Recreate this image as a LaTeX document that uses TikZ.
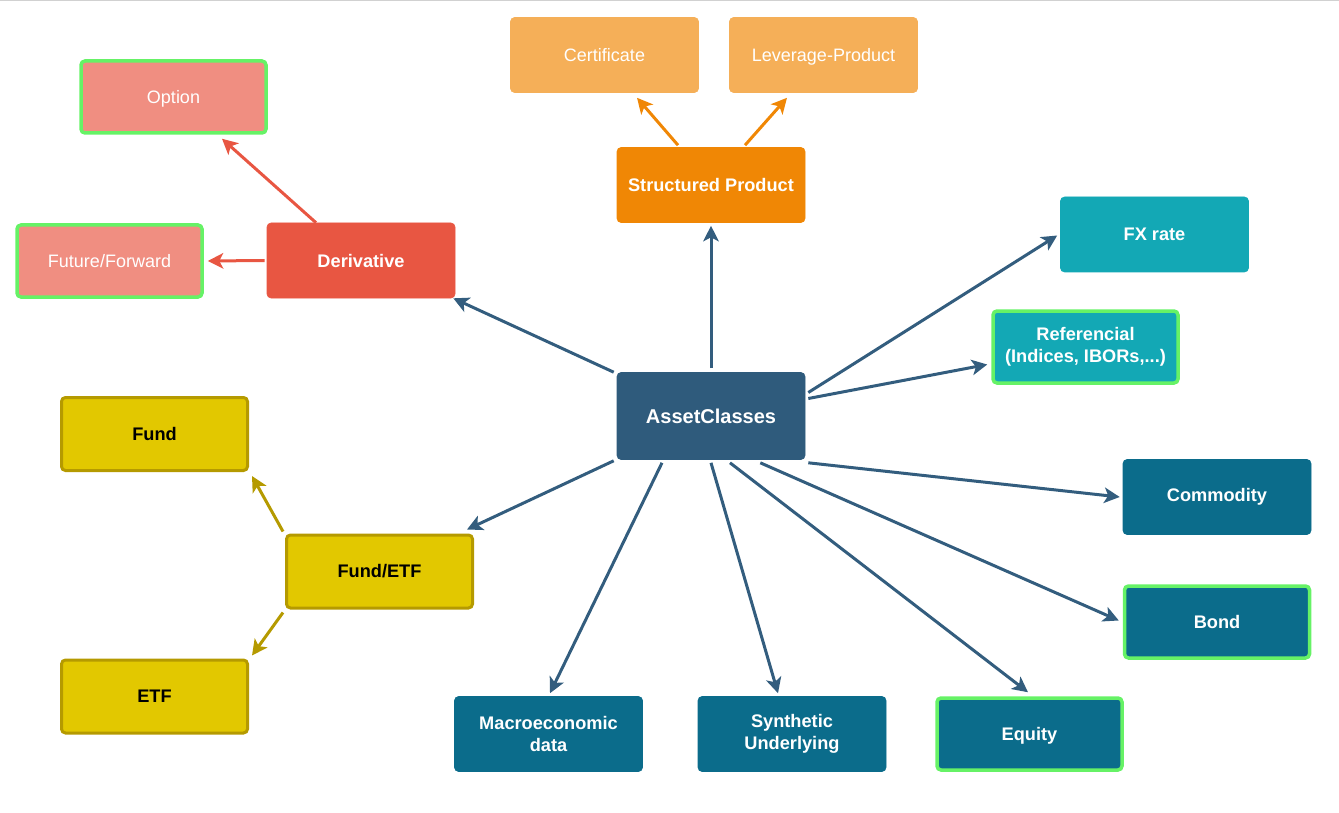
\documentclass[tikz,border=0pt]{standalone}
\usepackage{fontspec}
\setmainfont{Liberation Sans}
\usetikzlibrary{calc,arrows.meta}
\definecolor{derC}{HTML}{E85642}
\definecolor{optC}{HTML}{F08E81}
\definecolor{grnB}{HTML}{66F266}
\definecolor{spC}{HTML}{F08705}
\definecolor{certC}{HTML}{F5AF58}
\definecolor{fxC}{HTML}{13A8B5}
\definecolor{acC}{HTML}{2F5B7C}
\definecolor{arC}{HTML}{335D7E}
\definecolor{tealC}{HTML}{0B6C8B}
\definecolor{yelC}{HTML}{E2C800}
\definecolor{yelB}{HTML}{B59A00}
\tikzset{
  x=1pt, y=-1pt,
  box/.style={rounded corners=4pt, minimum width=188pt, minimum height=75pt, inner sep=0pt, align=center, text=white, font=\fontsize{18.2}{21.5}\selectfont\bfseries},
  plainbox/.style={box, fill=#1, draw=#1, line width=0.6pt},
  greenbox/.style={box, fill=#1, draw=grnB, line width=3.5pt, minimum width=185pt, minimum height=72pt},
  yelbox/.style={box, fill=yelC, draw=yelB, line width=3pt, minimum width=186pt, minimum height=73pt, text=black},
  light/.style={font=\fontsize{18}{21.5}\selectfont},
  conn/.style={line width=3pt, draw=#1, -{Stealth[length=15.5pt,width=15.5pt,inset=4pt]}},
}
\begin{document}
\begin{tikzpicture}
\useasboundingbox (0,0) rectangle (1339,813);
\draw[line width=2pt, draw=black!18] (0,0.5) -- (1339,0.5);
% nodes
\node[greenbox=optC, light, text depth=0pt] (opt) at (173.5,97) {Option};
\node[greenbox=optC, light] (fut) at (109.5,261) {Future/Forward};
\node[plainbox=derC] (der) at (361,260.5) {Derivative};
\node[plainbox=certC, light] (cert) at (604.5,55) {Certificate};
\node[plainbox=certC, light, text depth=0pt] (lev) at (823.5,55) {Leverage-Product};
\node[plainbox=spC] (sp) at (711,185) {Structured Product};
\node[plainbox=fxC] (fx) at (1154.5,234.5) {FX rate};
\node[greenbox=fxC] (ref) at (1085.5,347) {Referencial\\(Indices, IBORs,...)};
\node[plainbox=acC, minimum height=87pt, font=\fontsize{20}{24}\selectfont\bfseries] (ac) at (711,416) {AssetClasses};
\node[yelbox] (fund) at (154.5,434) {Fund};
\node[yelbox] (fe) at (379.5,571.5) {Fund/ETF};
\node[yelbox] (etf) at (154.5,696.5) {ETF};
\node[plainbox=tealC] (com) at (1217,497) {Commodity};
\node[greenbox=tealC, text depth=0pt] (bond) at (1217,622) {Bond};
\node[plainbox=tealC] (mac) at (548.5,734) {Macroeconomic\\data};
\node[plainbox=tealC] (syn) at (792,734) {Synthetic\\Underlying};
\node[greenbox=tealC, text depth=0pt] (eq) at (1029.5,734) {Equity};
% connectors
\draw[conn=arC] ($(ac.north west)+(-3,0)$) -- ($(der.south east)+(-2,0)$);
\draw[conn=arC] ($(ac.north)+(0,-4)$) -- ($(sp.south)+(0,3)$);
\draw[conn=arC] ($(ac.east)+(3,-23.5)$) -- ($(fx.west)+(-3,1)$);
\draw[conn=arC] ($(ac.east)+(3,-17.5)$) -- ($(ref.west)+(-4,17.5)$);
\draw[conn=arC] ($(ac.south east)+(3,3)$) -- ($(com.west)+(-3,0)$);
\draw[conn=arC] ($(ac.south east)+(-45,3)$) -- ($(bond.west)+(-4,-1.5)$);
\draw[conn=arC] ($(ac.south)+(19,3)$) -- ($(eq.north)+(-1.5,-4)$);
\draw[conn=arC] ($(ac.south)+(0,3)$) -- ($(syn.north)+(-14,-3)$);
\draw[conn=arC] ($(ac.south)+(-49,3)$) -- ($(mac.north)+(1.5,-3)$);
\draw[conn=arC] ($(ac.south west)+(-3,1)$) -- ($(fe.north east)+(-7,-4)$);
\draw[conn=derC] ($(der.north)+(-45,0)$) -- ($(opt.south)+(48.5,4)$);
\draw[conn=derC] ($(der.west)+(-2,0)$) -- ($(fut.east)+(4,0)$);
\draw[conn=spC] ($(sp.north)+(-33,-2)$) -- ($(cert.south)+(32.5,5)$);
\draw[conn=spC] ($(sp.north)+(34,-2)$) -- ($(lev.south)+(-36.5,5)$);
\draw[conn=yelB] ($(fe.north west)+(-2,-2)$) -- ($(fund.south east)+(3,4)$);
\draw[conn=yelB] ($(fe.south west)+(-2,3)$) -- ($(etf.north east)+(3,-3)$);
\end{tikzpicture}
\end{document}
